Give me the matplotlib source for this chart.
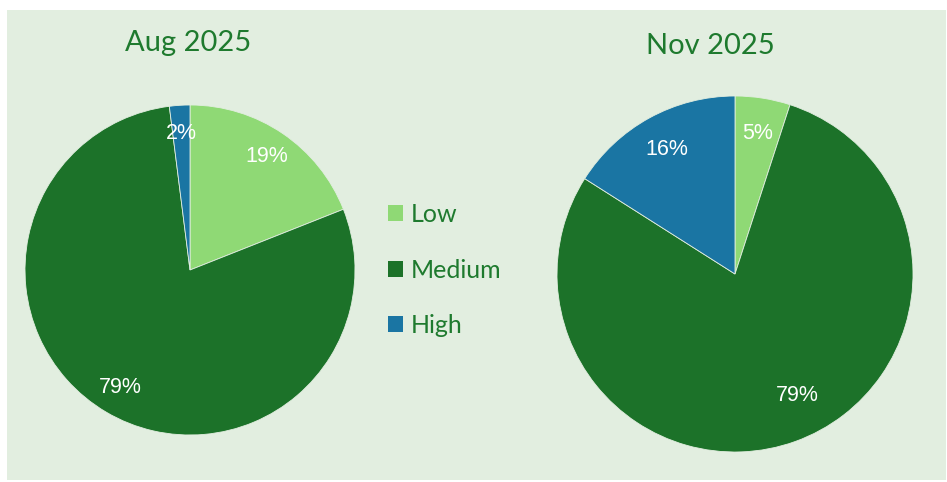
import matplotlib.pyplot as plt
from matplotlib.patches import Rectangle, Patch

# Data
categories = ['Low', 'Medium', 'High']
aug_values = [19, 79, 2]
nov_values = [5, 79, 16]
titles = ['Aug 2025', 'Nov 2025']

colors = ['#8fd975', '#1c7229', '#1a75a3']
bg = '#e2eee0'
text_green = '#1e7a2e'

W, H = 947, 482
fig = plt.figure(figsize=(W / 100, H / 100), dpi=100)
fig.patch.set_facecolor('white')

# light green panel
fig.patches.append(Rectangle((7 / W, 2 / H), 939 / W, 470 / H,
                             transform=fig.transFigure, facecolor=bg,
                             edgecolor='none', zorder=-5))


def pie_axes(cx, cy, r):
    # cx, cy in pixels from top-left
    ax = fig.add_axes([(cx - r) / W, (H - cy - r) / H, 2 * r / W, 2 * r / H])
    ax.set_zorder(2)
    return ax


def draw_pie(ax, values, pctdist):
    _, _, pcts = ax.pie(values, colors=colors, startangle=90, counterclock=False,
                        autopct='%1.0f%%', pctdistance=pctdist, radius=1,
                        wedgeprops=dict(linewidth=0.6, edgecolor=bg),
                        textprops=dict(color='white', fontsize=15.5,
                                       family='Liberation Sans'))
    ax.set_xlim(-1, 1)
    ax.set_ylim(-1, 1)
    ax.set_aspect('equal')
    ax.axis('off')
    return pcts


ax1 = pie_axes(190, 270, 165)
draw_pie(ax1, aug_values, 0.83)
ax2 = pie_axes(735, 274, 178)
pcts2 = draw_pie(ax2, nov_values, 0.8)
# Excel's best-fit placement nudges the big label
pcts2[1].set_position((0.35, -0.68))

fig.text(188 / W, 1 - 43 / H, titles[0], ha='center', va='center',
         fontsize=21, color=text_green, family='Lato')
fig.text(710 / W, 1 - 46 / H, titles[1], ha='center', va='center',
         fontsize=21, color=text_green, family='Lato')

handles = [Patch(facecolor=c, edgecolor='none') for c in colors]
fig.legend(handles, categories, loc='center left',
           bbox_to_anchor=(388 / W, 1 - 270 / H), frameon=False,
           prop=dict(family='Lato', size=18), labelcolor=text_green,
           handlelength=0.6, handleheight=0.6, handletextpad=0.3,
           labelspacing=1.3, borderpad=0, borderaxespad=0)

fig.savefig('out.png', dpi=100, facecolor=fig.get_facecolor())
